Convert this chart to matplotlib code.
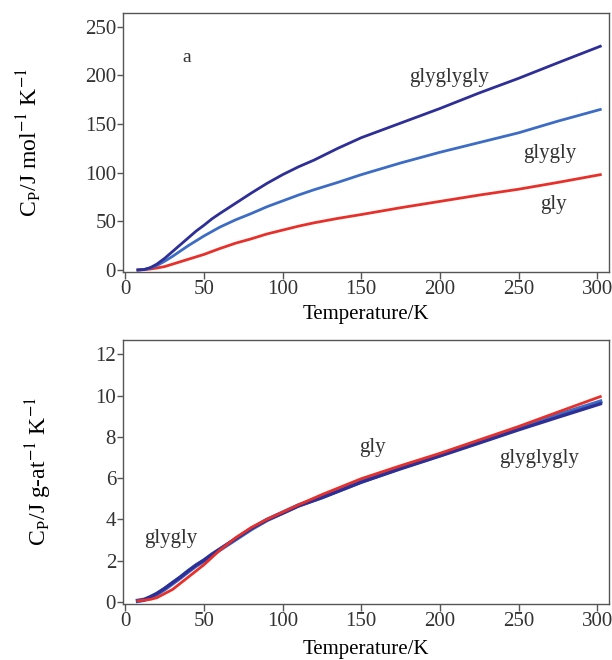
import matplotlib
matplotlib.use("Agg")
import matplotlib.pyplot as plt

plt.rcParams['font.family'] = ['Liberation Serif', 'DejaVu Serif']
plt.rcParams['mathtext.fontset'] = 'stix'

# Panel a: molar heat capacity (J mol^-1 K^-1)
T_a = [8, 12, 16, 20, 25, 30, 35, 40, 45, 50, 55, 60, 70, 80, 90, 100, 110, 120,
       135, 150, 175, 200, 225, 250, 275, 302]
cp_gly = [0, 0.3, 1, 2, 3.5, 6, 8.5, 11, 13.5, 16, 19, 22, 27.5, 32, 37, 41, 45, 48.5,
          53, 57, 64, 70.5, 77, 83, 90, 98]
cp_gg = [0, 0.5, 2, 4.5, 9, 14, 19.5, 25, 30, 35, 39.5, 44, 51.5, 58, 65, 71, 77, 82.5,
         90, 98, 110, 121, 131, 141, 153, 165]
cp_ggg = [0, 0.5, 2.5, 6, 12, 19, 26, 33, 40, 46, 52.5, 58, 68.5, 79, 89, 98, 106, 113,
          125, 136, 151, 166, 182, 197, 213, 230]

# Panel b: heat capacity per g-atom (J g-at^-1 K^-1)
T_b = [8, 12, 16, 20, 25, 30, 35, 40, 45, 50, 55, 60, 65, 70, 75, 80, 90, 100, 110,
       125, 150, 175, 200, 225, 250, 275, 302]
cpb_gly = [0.05, 0.08, 0.12, 0.2, 0.4, 0.6, 0.9, 1.2, 1.5, 1.8, 2.15, 2.5, 2.8, 3.1,
           3.35, 3.6, 4.0, 4.35, 4.7, 5.2, 5.97, 6.6, 7.2, 7.85, 8.5, 9.2, 9.95]
cpb_gg = [0.05, 0.1, 0.22, 0.38, 0.62, 0.9, 1.18, 1.48, 1.76, 2.0, 2.28, 2.53, 2.78,
          3.03, 3.28, 3.53, 3.97, 4.32, 4.67, 5.08, 5.83, 6.5, 7.12, 7.76, 8.4, 9.05, 9.7]
cpb_ggg = [0.05, 0.1, 0.25, 0.4, 0.65, 0.93, 1.2, 1.5, 1.78, 2.02, 2.3, 2.55, 2.8,
           3.05, 3.3, 3.55, 3.97, 4.3, 4.65, 5.05, 5.8, 6.45, 7.07, 7.7, 8.34, 8.95, 9.6]

xticks = [0, 50, 100, 150, 200, 250, 300]
yticks_a = [0, 50, 100, 150, 200, 250]
yticks_b = [0, 2, 4, 6, 8, 10, 12]

c_gly = '#e8302a'
c_gg = '#3d6cc4'
c_ggg = '#2e2f96'
c_txt = '#333333'

fig = plt.figure(figsize=(6.12, 6.6), dpi=100)
ax1 = fig.add_axes([0.201, 0.588, 0.794, 0.392])
ax2 = fig.add_axes([0.201, 0.085, 0.794, 0.400])

ax1.plot(T_a, cp_gly, color=c_gly, lw=2)
ax1.plot(T_a, cp_gg, color=c_gg, lw=2)
ax1.plot(T_a, cp_ggg, color=c_ggg, lw=2)
ax1.set_xlim(-1.5, 307.5)
ax1.set_ylim(-2, 264)
ax1.set_yticks(yticks_a)
ax1.set_xticks(xticks)
ax1.set_xlabel('Temperature/K', fontsize=15, labelpad=4)
ax1.set_ylabel(r'C$_\mathregular{P}$/J mol$^{-1}$ K$^{-1}$', fontsize=17, labelpad=30)
ax1.text(39, 218, 'a', fontsize=14, ha='center', va='center', color=c_txt)
ax1.text(206, 198, 'glyglygly', fontsize=15, ha='center', va='center', color=c_txt)
ax1.text(270, 120, 'glygly', fontsize=15, ha='center', va='center', color=c_txt)
ax1.text(272, 67, 'gly', fontsize=15, ha='center', va='center', color=c_txt)

ax2.plot(T_b, cpb_gg, color=c_gg, lw=3.2)
ax2.plot(T_b, cpb_ggg, color=c_ggg, lw=2.4)
ax2.plot(T_b, cpb_gly, color=c_gly, lw=2)
ax2.set_xlim(-1.5, 307.5)
ax2.set_ylim(-0.1, 12.7)
ax2.set_yticks(yticks_b)
ax2.set_xticks(xticks)
ax2.set_xlabel('Temperature/K', fontsize=15, labelpad=6)
ax2.set_ylabel(r'C$_\mathregular{P}$/J g-at$^{-1}$ K$^{-1}$', fontsize=17, labelpad=30)
ax2.text(29, 3.05, 'glygly', fontsize=15, ha='center', va='center', color=c_txt)
ax2.text(157, 7.5, 'gly', fontsize=15, ha='center', va='center', color=c_txt)
ax2.text(263, 6.95, 'glyglygly', fontsize=15, ha='center', va='center', color=c_txt)

for ax in (ax1, ax2):
    for s in ax.spines.values():
        s.set_color('#555555')
        s.set_linewidth(1.0)
    ax.tick_params(direction='out', length=5, width=1, color='#555555',
                   labelsize=15, labelcolor='#333333', pad=1)
    ax.tick_params(axis='y', length=4)

fig.savefig('out.png', dpi=100)
